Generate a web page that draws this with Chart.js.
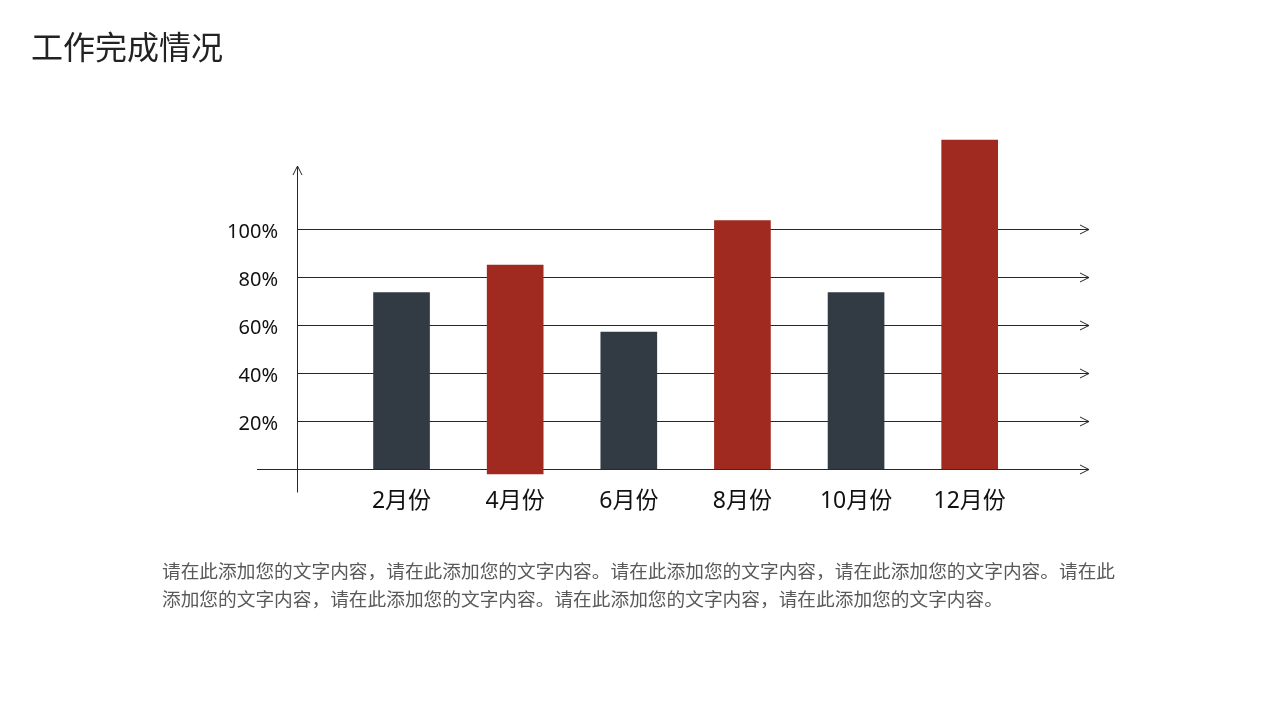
<!DOCTYPE html>
<html>
<head>
<meta charset="utf-8">
<script src="https://cdn.jsdelivr.net/npm/chart.js@4"></script>
<style>
  body { margin: 0; background: #fff; }
  #wrap { position: relative; width: 1280px; height: 720px; overflow: hidden; }
  #chart { position: absolute; left: 0; top: 0; }
  #title {
    position: absolute; left: 31px; top: 29px;
    font: 32px/32px "Noto Sans CJK SC", sans-serif; color: #222;
  }
  #desc {
    position: absolute; left: 162px; top: 556px; margin: 0;
    font: 18.7px/28px "Noto Sans CJK SC", sans-serif; color: #595959;
  }
</style>
</head>
<body>
<div id="wrap">
  <canvas id="chart" width="1280" height="720"></canvas>
  <div id="title">工作完成情况</div>
  <p id="desc">请在此添加您的文字内容，请在此添加您的文字内容。请在此添加您的文字内容，请在此添加您的文字内容。请在此<br>添加您的文字内容，请在此添加您的文字内容。请在此添加您的文字内容，请在此添加您的文字内容。</p>
</div>
<script>
const months = ['2月份', '4月份', '6月份', '8月份', '10月份', '12月份'];
const values = [73.5, 85, 57, 103.5, 73.5, 137];
const bases = [0, -2, 0, 0, 0, 0];
const yTicks = [20, 40, 60, 80, 100];

const dark = '#323b43';
const red = '#a02920';
const lineColor = '#262626';

// arrows on every horizontal line plus the vertical axis
const axisArrows = {
    id: 'axisArrows',
    beforeDatasetsDraw(chart) {
        const ctx = chart.ctx;
        const a = chart.chartArea;
        const y = chart.scales.y;
        const crisp = v => Math.round(v) + 0.5;
        ctx.save();
        ctx.strokeStyle = lineColor;
        ctx.lineWidth = 1;

        const y0 = crisp(y.getPixelForValue(0));
        const ax = crisp(a.left);
        ctx.beginPath();
        ctx.moveTo(a.left - 40, y0);
        ctx.lineTo(a.right, y0);
        ctx.moveTo(ax, y0 + 23);
        ctx.lineTo(ax, a.top + 33);
        ctx.stroke();

        ctx.beginPath();
        [0, ...yTicks].forEach(v => {
            const py = crisp(y.getPixelForValue(v));
            ctx.moveTo(a.right - 9, py - 4.5);
            ctx.lineTo(a.right, py);
            ctx.lineTo(a.right - 9, py + 4.5);
        });
        const ty = a.top + 33;
        ctx.moveTo(ax - 4.5, ty + 9);
        ctx.lineTo(ax, ty);
        ctx.lineTo(ax + 4.5, ty + 9);
        ctx.stroke();
        ctx.restore();
    }
};

new Chart(document.getElementById('chart'), {
    type: 'bar',
    data: {
        datasets: [{
            data: values.map((v, i) => ({ x: i + 1, y: [bases[i], v] })),
            backgroundColor: values.map((v, i) => i % 2 ? red : dark),
            barThickness: 56,
            clip: false
        }]
    },
    options: {
        responsive: false,
        animation: false,
        layout: { padding: { left: 197, right: 191, top: 133, bottom: 191 } },
        scales: {
            x: {
                type: 'linear',
                offset: false,
                min: 0.08,
                max: 7.05,
                afterBuildTicks: s => { s.ticks = months.map((m, i) => ({ value: i + 1 })); },
                afterFit: s => { s.height = 60; },
                grid: { display: false },
                border: { display: false },
                ticks: {
                    autoSkip: false,
                    maxRotation: 0,
                    padding: 11,
                    color: '#111',
                    font: { family: '"Noto Sans", "Noto Sans CJK SC", sans-serif', size: 23 },
                    callback: v => months[v - 1]
                }
            },
            y: {
                min: 0,
                max: 140,
                afterBuildTicks: s => { s.ticks = yTicks.map(v => ({ value: v })); },
                afterFit: s => { s.width = 100; },
                grid: { color: lineColor, lineWidth: 1, drawTicks: false },
                border: { display: false },
                ticks: {
                    padding: 19,
                    labelOffset: 3,
                    color: '#111',
                    font: { family: '"Noto Sans", sans-serif', size: 20 },
                    callback: v => v + '%'
                }
            }
        },
        plugins: {
            legend: { display: false },
            tooltip: { enabled: false }
        }
    },
    plugins: [axisArrows]
});
</script>
</body>
</html>
